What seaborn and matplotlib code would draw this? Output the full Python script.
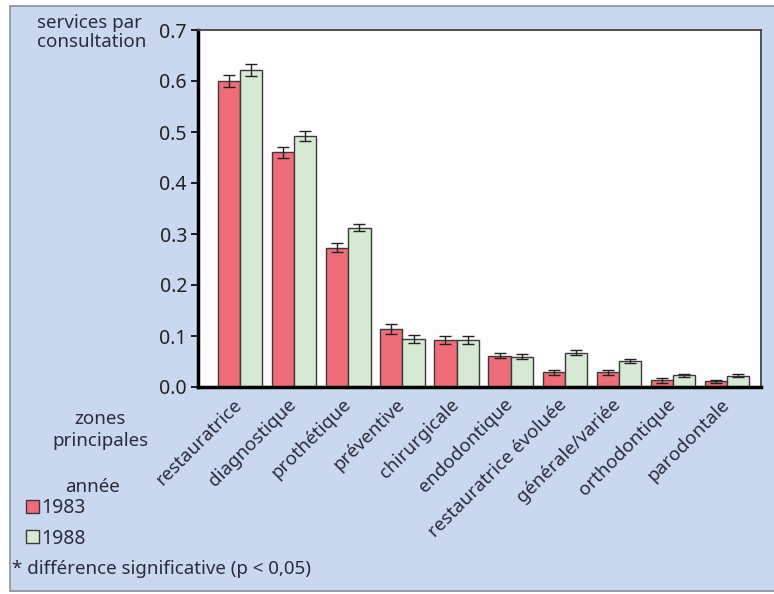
import numpy as np
import pandas as pd
import matplotlib.pyplot as plt
import matplotlib.transforms as mtransforms
import seaborn as sns
from matplotlib.patches import Rectangle

# --- data ---
categories = ['restauratrice', 'diagnostique', 'prothétique', 'préventive', 'chirurgicale',
              'endodontique', 'restauratrice évoluée', 'générale/variée', 'orthodontique', 'parodontale']
years = ['1983', '1988']
values_1983 = [0.600, 0.460, 0.273, 0.113, 0.092, 0.061, 0.029, 0.029, 0.013, 0.011]
values_1988 = [0.622, 0.492, 0.312, 0.094, 0.092, 0.059, 0.067, 0.051, 0.023, 0.022]
err_1983 = [0.012, 0.010, 0.009, 0.010, 0.008, 0.005, 0.005, 0.005, 0.005, 0.003]
err_1988 = [0.012, 0.009, 0.007, 0.007, 0.008, 0.005, 0.005, 0.004, 0.003, 0.003]
y_ticks = [0.0, 0.1, 0.2, 0.3, 0.4, 0.5, 0.6, 0.7]

bg_color = '#c9d8ee'
text_color = '#2b2b3b'
palette = {'1983': '#ee6d78', '1988': '#d6e9d3'}

df = pd.DataFrame({
    'zone': categories * 2,
    'annee': [years[0]] * len(categories) + [years[1]] * len(categories),
    'valeur': values_1983 + values_1988,
})
errors = {'1983': err_1983, '1988': err_1988}

sns.set_style('white')
plt.rcParams['font.family'] = ['Noto Sans', 'DejaVu Sans']

fig = plt.figure(figsize=(7.74, 5.94), dpi=100)
fig.patch.set_facecolor('white')
# light blue panel with a thin frame, as in the scanned figure
fig.patches.append(Rectangle((10 / 774, 3 / 594), 1.0, 1 - 9 / 594, transform=fig.transFigure,
                             facecolor=bg_color, edgecolor='#8a8f99', linewidth=1.2, zorder=-10))

ax = fig.add_axes([198 / 774, 1 - 387 / 594, (761 - 198) / 774, (387 - 30) / 594])
ax.set_facecolor('#fdfdfd')

sns.barplot(data=df, x='zone', y='valeur', hue='annee', hue_order=years, order=categories,
            palette=palette, saturation=1, edgecolor='#3a3a3a', linewidth=1.0, width=0.82,
            errorbar=None, ax=ax)

# error bars centred on the drawn bars
for container, year in zip(ax.containers, years):
    for bar, err in zip(container, errors[year]):
        ax.errorbar(bar.get_x() + bar.get_width() / 2, bar.get_height(), yerr=err,
                    fmt='none', ecolor='#222222', elinewidth=1.0, capsize=4.5, capthick=1.0, zorder=5)

ax.set_ylim(0, 0.7)
ax.set_xlim(-0.78, len(categories) - 1 + 0.63)
ax.set_yticks(y_ticks)
ax.set_yticklabels([f'{t:.1f}' for t in y_ticks], fontsize=14, fontweight='bold', color='#222222')
ax.set_xticks(range(len(categories)))
ax.set_xticklabels(categories, rotation=45, ha='right', rotation_mode='anchor',
                   fontsize=13.5, color=text_color)
ax.tick_params(axis='y', length=5, width=1.2, color='black', pad=3, left=True)
ax.tick_params(axis='x', length=0, pad=6)
ax.set_xlabel('')
ax.set_ylabel('')

# nudge the slanted labels a little to the left, like the original
shift = mtransforms.ScaledTranslation(-7 / 100, 0, fig.dpi_scale_trans)
for lbl in ax.get_xticklabels():
    lbl.set_transform(lbl.get_transform() + shift)

for side in ['left', 'bottom']:
    ax.spines[side].set_linewidth(2.5)
    ax.spines[side].set_color('black')
for side in ['top', 'right']:
    ax.spines[side].set_linewidth(1.3)
    ax.spines[side].set_color('#444444')

sns.move_legend(ax, 'upper left', bbox_to_anchor=(26 / 774, 1 - 498 / 594),
                bbox_transform=fig.transFigure, frameon=False, title=None,
                fontsize=14, handlelength=0.65, handleheight=0.65,
                handletextpad=0.15, labelspacing=0.55, borderpad=0.0, borderaxespad=0.0)
leg = ax.get_legend()
for t in leg.get_texts():
    t.set_color(text_color)

fig.text(37 / 774, 1 - 14 / 594, 'services par\nconsultation', ha='left', va='top',
         fontsize=13.5, color=text_color, linespacing=1.1)
fig.text(100 / 774, 1 - 410 / 594, 'zones\nprincipales', ha='center', va='top',
         fontsize=13.5, color=text_color, linespacing=1.3)
fig.text(93 / 774, 1 - 487 / 594, 'année', ha='center', va='center',
         fontsize=13.5, color=text_color)
fig.text(12 / 774, 1 - 569 / 594, '* différence significative (p < 0,05)', ha='left', va='center',
         fontsize=13.5, color=text_color)

fig.savefig('out.png', dpi=100, facecolor=fig.get_facecolor())
